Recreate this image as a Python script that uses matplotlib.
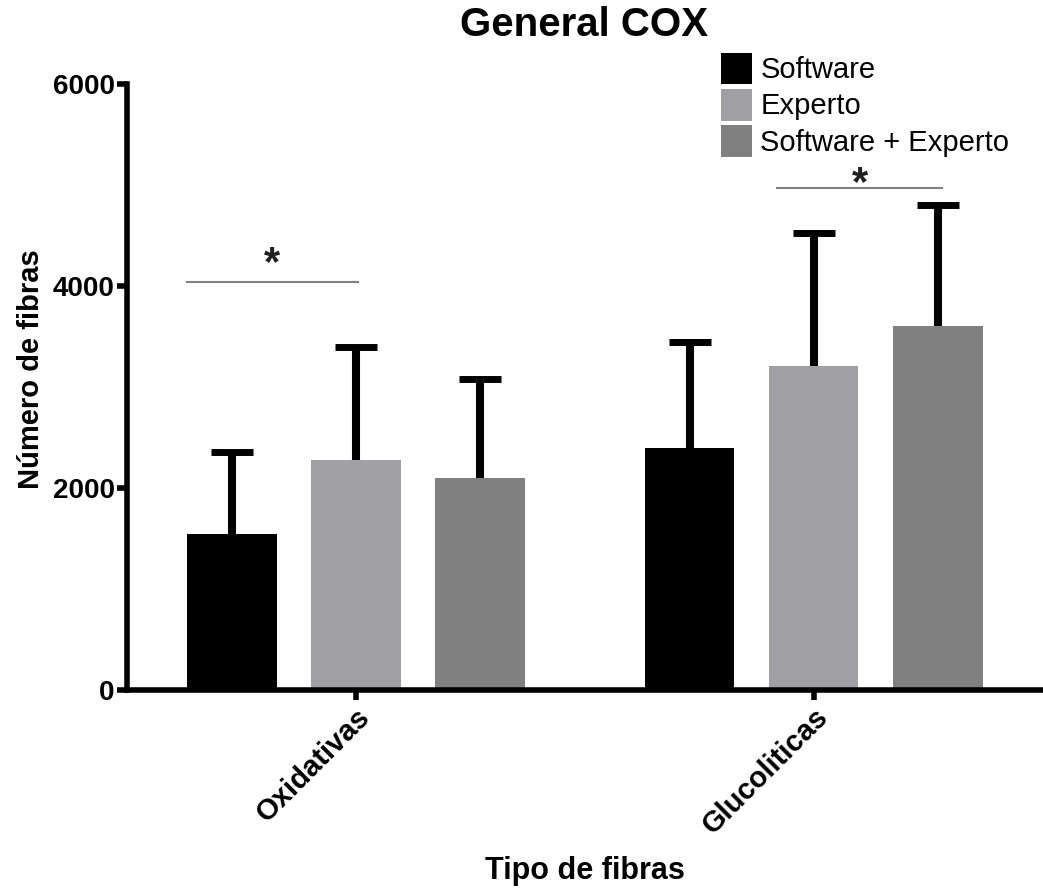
import numpy as np
import matplotlib.pyplot as plt

plt.rcParams['font.family'] = ['Liberation Sans', 'DejaVu Sans']

# Mean fibre counts and upper error (SD) per method
categories = ['Oxidativas', 'Glucoliticas']
series = ['Software', 'Experto', 'Software + Experto']
means = {
    'Software': [1540, 2400],
    'Experto': [2280, 3210],
    'Software + Experto': [2100, 3600],
}
errors = {
    'Software': [820, 1050],
    'Experto': [1120, 1310],
    'Software + Experto': [980, 1200],
}
colors = ['#000000', '#a0a0a4', '#808080']

# significance brackets: (x start, x end, line level, star level)
sig_lines = [(-0.37, 0.005, 4040, 4020), (0.92, 1.28, 4970, 4810)]

fig = plt.figure(figsize=(10.43, 8.9), dpi=100)
ax = fig.add_axes([0.1218, 0.2247, 0.878, 0.681])

x = np.arange(len(categories))
width = 0.195
step = 0.271

for i, name in enumerate(series):
    pos = x + (i - 1) * step
    ax.bar(pos, means[name], width=width, color=colors[i], label=name, zorder=2)
    eb = ax.errorbar(pos, means[name], yerr=[np.zeros(len(x)), errors[name]],
                     fmt='none', ecolor='black', elinewidth=5.8, capsize=15,
                     capthick=5, zorder=1)
    # only the upper cap is shown
    eb[1][0].set_visible(False)

for x0, x1, y, ys in sig_lines:
    ax.plot([x0, x1], [y, y], color='#808080', lw=1.5, zorder=3)
    ax.text((x0 + x1) / 2, ys, '*', ha='center', va='bottom',
            fontsize=30, fontweight='bold', color='#231f20')

ax.set_xlim(-0.5, 1.5)
ax.set_ylim(0, 6000)
ax.set_yticks([0, 2000, 4000, 6000])
ax.set_xticks(x)
ax.set_xticklabels(categories, rotation=45, ha='right', rotation_mode='anchor',
                   fontsize=21, fontweight='bold')
for lab in ax.get_yticklabels():
    lab.set_fontsize(20)
    lab.set_fontweight('bold')

for side in ['top', 'right']:
    ax.spines[side].set_visible(False)
for side in ['left', 'bottom']:
    ax.spines[side].set_linewidth(4)
ax.tick_params(axis='both', width=4, length=7, pad=2)

ax.set_ylabel('Número de fibras', fontsize=21, fontweight='bold')
ax.yaxis.set_label_coords(-0.09, 0.53)
ax.set_xlabel('Tipo de fibras', fontsize=22, fontweight='bold', labelpad=12)
fig.suptitle('General COX', fontsize=29, fontweight='bold', x=0.56, y=0.993)

ax.legend(loc='upper left', bbox_to_anchor=(0.62, 1.095), frameon=False,
          fontsize=21, handlelength=1.05, handleheight=1.3, handletextpad=0.3,
          labelspacing=0.15)

fig.savefig('out.png', dpi=100)
